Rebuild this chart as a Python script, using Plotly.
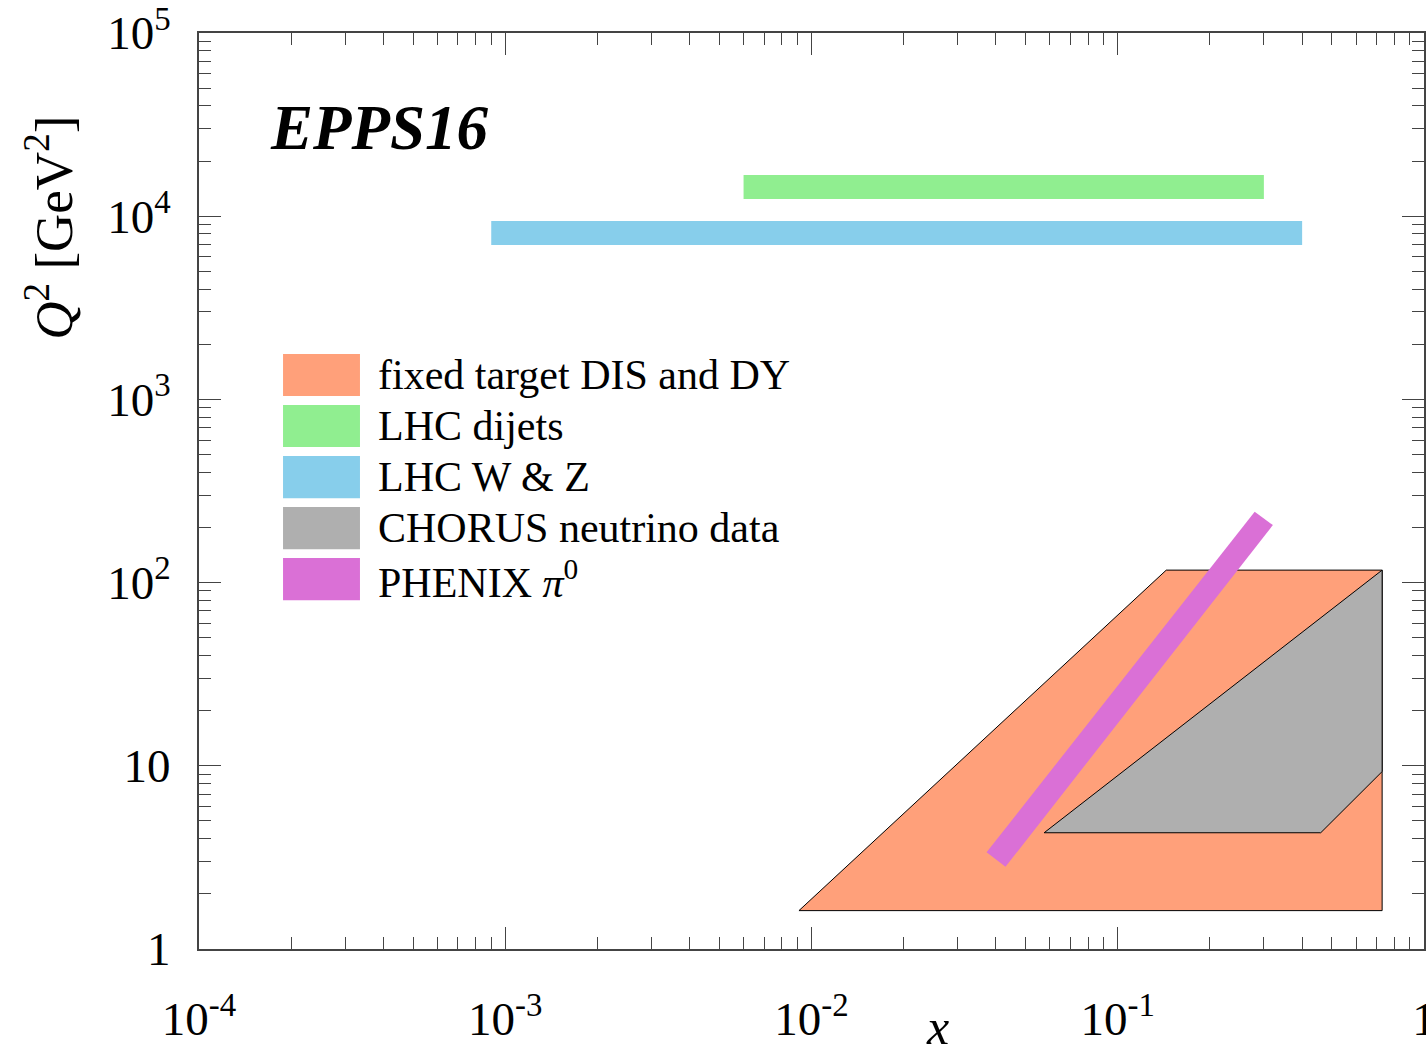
import plotly.graph_objects as go

# ---------------- data ----------------
series_names = ["fixed target DIS and DY", "LHC dijets", "LHC W & Z",
                "CHORUS neutrino data", "PHENIX <i>π</i><sup>0</sup>"]
series_colors = ["#FFA07A", "#90EE90", "#87CEEB", "#AFAFAF", "#DA70D6"]

fixed_x = [0.0091, 0.144, 0.73, 0.73]
fixed_q2 = [1.62, 117, 117, 1.62]

chorus_x = [0.0575, 0.73, 0.73, 0.46]
chorus_q2 = [4.31, 117, 9.3, 4.31]

dijet_x = [0.006, 0.30, 0.30, 0.006]
dijet_q2 = [12400, 12400, 16800, 16800]

wz_x = [0.0009, 0.40, 0.40, 0.0009]
wz_q2 = [6970, 6970, 9420, 9420]

phenix_x = [0.0373, 0.280, 0.321, 0.0430]
phenix_q2 = [3.37, 244, 206, 2.81]

x_tickvals = [1e-4, 1e-3, 1e-2, 1e-1, 1]
x_ticktext = ["10<sup>-4</sup>", "10<sup>-3</sup>", "10<sup>-2</sup>", "10<sup>-1</sup>", "1"]
y_tickvals = [1, 10, 1e2, 1e3, 1e4, 1e5]
y_ticktext = ["1", "10", "10<sup>2</sup>", "10<sup>3</sup>", "10<sup>4</sup>", "10<sup>5</sup>"]

FONT = "Liberation Serif, Times New Roman, serif"
AXC = "#444444"

x_minor = [m * 10.0 ** e for e in range(-4, 0) for m in range(2, 10)]
y_minor = [m * 10.0 ** e for e in range(0, 5) for m in range(2, 10)]

fig = go.Figure()

def poly(xs, ys, color, outline):
    fig.add_trace(go.Scatter(
        x=xs + xs[:1], y=ys + ys[:1], mode="lines", fill="toself",
        fillcolor=color,
        line=dict(color="black" if outline else color, width=1 if outline else 0),
        hoverinfo="skip", showlegend=False))

poly(dijet_x, dijet_q2, series_colors[1], False)
poly(wz_x, wz_q2, series_colors[2], False)
poly(fixed_x, fixed_q2, series_colors[0], True)
poly(chorus_x, chorus_q2, series_colors[3], True)
poly(phenix_x, phenix_q2, series_colors[4], False)

fig.update_layout(
    width=1426, height=1050,
    margin=dict(l=199, r=2, t=33, b=101, pad=0, autoexpand=False),
    paper_bgcolor="white", plot_bgcolor="white",
    font=dict(family=FONT, color="black"),
    showlegend=False,
)

fig.update_xaxes(
    type="log", range=[-4, 0], showgrid=False, zeroline=False, automargin=False,
    tickmode="array", tickvals=x_tickvals, ticktext=x_ticktext,
    ticks="inside", ticklen=22, tickwidth=1.3, tickcolor=AXC,
    showline=True, linecolor=AXC, linewidth=2, mirror="allticks",
    tickfont=dict(family=FONT, size=47, color="black"),
    ticklabelstandoff=28, ticklabeloverflow="allow",
    minor=dict(tickmode="array", tickvals=x_minor, ticks="inside", ticklen=12,
               tickwidth=1.3, tickcolor=AXC, showgrid=False),
)
fig.update_yaxes(
    type="log", range=[0, 5], showgrid=False, zeroline=False, automargin=False,
    tickmode="array", tickvals=y_tickvals, ticktext=y_ticktext,
    ticks="inside", ticklen=22, tickwidth=1.3, tickcolor=AXC,
    showline=True, linecolor=AXC, linewidth=2, mirror="allticks",
    tickfont=dict(family=FONT, size=47, color="black"),
    ticklabelstandoff=17, ticklabeloverflow="allow",
    minor=dict(tickmode="array", tickvals=y_minor, ticks="inside", ticklen=12,
               tickwidth=1.3, tickcolor=AXC, showgrid=False),
)

# axis titles
fig.add_annotation(text="<i>x</i>", xref="paper", yref="paper", x=0.603, y=-0.085,
                   showarrow=False, font=dict(family=FONT, size=50),
                   xanchor="center", yanchor="middle")
fig.add_annotation(text="<i>Q</i><sup>2</sup> [GeV<sup>2</sup>]", xref="paper", yref="paper",
                   x=-0.122, y=0.787, textangle=-90, showarrow=False,
                   font=dict(family=FONT, size=53), xanchor="center", yanchor="middle")

# EPPS16 label
fig.add_annotation(text="<b><i>EPPS16</i></b>", xref="paper", yref="paper",
                   x=0.147, y=0.896, showarrow=False,
                   font=dict(family=FONT, size=63), xanchor="center", yanchor="middle")

# manual legend
box_x0, box_x1, text_x = 0.0686, 0.1314, 0.1445
row_top, row_step, box_h = 0.6496, 0.0557, 0.0460
for i, (name, col) in enumerate(zip(series_names, series_colors)):
    y1 = row_top - i * row_step
    y0 = y1 - box_h
    fig.add_shape(type="rect", xref="paper", yref="paper", x0=box_x0, x1=box_x1,
                  y0=y0, y1=y1, fillcolor=col, line=dict(width=0), layer="above")
    fig.add_annotation(text=name, xref="paper", yref="paper", x=text_x, y=(y0 + y1) / 2,
                       showarrow=False, xanchor="left", yanchor="middle",
                       font=dict(family=FONT, size=42))

fig.write_html("out.html")
